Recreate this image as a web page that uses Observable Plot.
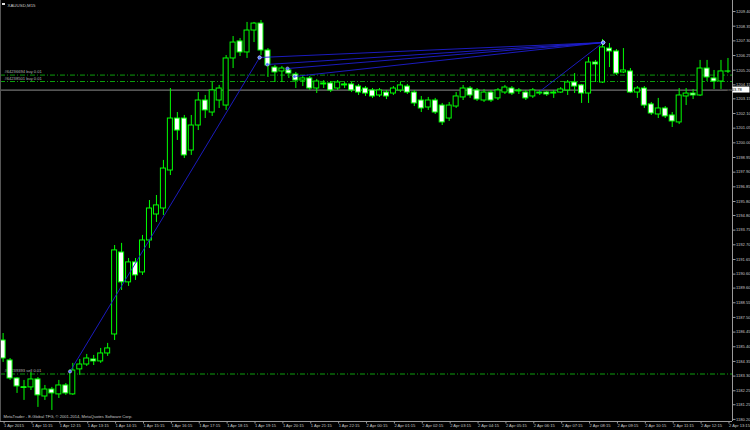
<!DOCTYPE html>
<html><head><meta charset="utf-8">
<script src="https://cdn.jsdelivr.net/npm/d3@7"></script>
<script src="https://cdn.jsdelivr.net/npm/@observablehq/plot@0.6"></script>
<style>
html,body{margin:0;padding:0;background:#000;}
#chart{position:relative;width:750px;height:430px;overflow:hidden;background:#000;}
</style></head><body><div id="chart"></div>
<script>
const symbolTitle = "XAUUSD,M15";
const copyright = "MetaTrader - E-Global TFG, \u00a9 2001-2014, MetaQuotes Software Corp.";

const opens = [
1185.85,1184.42,1183.13,1182.50,1182.49,1183.06,1181.84,1182.34,1181.99,1182.63,
1181.99,1183.78,1184.13,1184.49,1184.35,1184.92,1186.28,1192.15,1190.01,1191.44,
1190.72,1193.01,1194.87,1195.30,1198.02,1201.74,1201.74,1199.45,1201.24,1203.03,
1202.17,1203.03,1202.67,1206.04,1207.26,1206.47,1208.04,1208.54,1206.61,1205.39,
1205.11,1205.18,1204.89,1204.46,1204.61,1203.89,1204.18,1204.25,1203.89,1204.18,
1204.18,1204.03,1203.89,1203.75,1203.39,1203.60,1203.53,1203.75,1204.03,1203.60,
1203.03,1202.53,1203.03,1202.67,1201.74,1202.60,1203.25,1203.89,1203.75,1203.03,
1203.60,1203.18,1203.60,1203.89,1203.75,1203.60,1203.32,1203.53,1203.60,1203.53,
1203.60,1203.75,1204.32,1204.11,1203.53,1205.75,1204.32,1206.75,1206.54,1205.04,
1205.11,1203.60,1203.89,1202.75,1202.03,1202.46,1201.96,1201.46,1203.32,1203.53,
1203.39,1205.32,1204.61,1204.39,1205.11];
const highs = [
1186.35,1184.56,1183.20,1182.99,1183.56,1183.20,1182.63,1182.49,1182.99,1182.77,
1184.21,1184.49,1184.85,1184.78,1185.28,1185.64,1192.65,1192.80,1191.72,1191.72,
1193.37,1195.87,1196.23,1198.74,1203.89,1202.17,1201.96,1201.96,1203.60,1203.39,
1204.32,1204.11,1206.25,1207.61,1207.47,1208.62,1208.62,1208.76,1206.75,1205.54,
1205.47,1205.32,1205.04,1204.82,1204.75,1204.54,1204.46,1204.39,1204.46,1204.32,
1204.32,1204.18,1204.03,1203.89,1203.89,1203.75,1204.03,1204.32,1204.18,1203.75,
1203.32,1203.25,1203.18,1202.82,1202.89,1203.60,1204.11,1204.03,1203.89,1203.82,
1203.75,1203.89,1204.11,1204.03,1203.89,1203.75,1203.89,1203.75,1203.68,1203.75,
1203.96,1204.46,1204.96,1204.18,1206.11,1205.90,1207.40,1207.11,1206.68,1206.75,
1205.32,1204.03,1204.03,1202.89,1203.18,1202.60,1202.17,1203.89,1203.89,1203.82,
1205.90,1205.90,1205.18,1205.90,1206.04];
const lows = [
1184.28,1182.99,1182.06,1181.56,1182.27,1181.06,1181.56,1180.84,1181.70,1181.92,
1181.92,1183.35,1183.99,1184.06,1184.21,1184.71,1185.85,1189.43,1189.72,1190.15,
1190.51,1192.44,1194.30,1194.80,1197.66,1200.17,1198.88,1199.10,1200.88,1201.74,
1201.89,1202.46,1202.32,1205.32,1206.18,1206.04,1207.18,1206.25,1204.68,1204.32,
1204.32,1204.61,1203.89,1204.03,1203.75,1203.53,1203.89,1203.60,1203.75,1203.89,
1203.60,1203.39,1203.32,1203.18,1203.25,1203.10,1203.39,1203.60,1203.46,1202.60,
1202.17,1202.32,1202.03,1201.24,1201.53,1202.46,1203.03,1203.18,1202.96,1202.89,
1202.89,1203.03,1203.46,1203.39,1203.46,1203.03,1203.18,1203.39,1203.32,1203.18,
1203.53,1203.39,1203.53,1202.82,1202.82,1204.32,1204.25,1205.39,1204.82,1204.96,
1203.53,1203.18,1202.46,1201.96,1201.74,1201.74,1201.10,1201.31,1202.67,1203.10,
1203.32,1204.39,1203.82,1203.82,1204.96];
const closes = [
1184.56,1183.13,1182.56,1182.45,1183.06,1181.92,1182.34,1182.06,1182.63,1182.06,
1183.70,1184.13,1184.56,1184.35,1184.92,1185.28,1192.30,1190.01,1191.44,1190.51,
1193.01,1195.30,1195.52,1198.16,1201.74,1200.88,1199.10,1201.24,1203.03,1202.32,
1203.75,1203.89,1206.04,1207.18,1206.47,1208.04,1208.54,1206.61,1205.54,1205.04,
1205.32,1204.96,1204.46,1204.61,1203.89,1204.39,1204.25,1203.75,1204.32,1204.11,
1203.75,1203.60,1203.53,1203.32,1203.75,1203.32,1203.89,1204.11,1203.60,1202.82,
1202.46,1203.03,1202.17,1201.46,1202.67,1203.32,1203.89,1203.39,1203.10,1203.60,
1203.03,1203.75,1203.96,1203.53,1203.68,1203.18,1203.75,1203.60,1203.46,1203.60,
1203.82,1204.32,1204.03,1203.53,1205.75,1205.61,1206.83,1206.54,1204.96,1205.18,
1203.60,1203.89,1202.67,1202.10,1202.46,1201.89,1201.53,1203.39,1203.53,1203.39,
1205.32,1204.68,1204.39,1205.11,1205.10];

const timeTickBars = [0,4,8,12,16,20,24,28,32,36,40,44,48,52,56,60,64,68,72,76,80,84,88,92,96,100,104];
const timeTickLabels = ["1 Apr 2015","1 Apr 11:15","1 Apr 12:15","1 Apr 13:15","1 Apr 14:15","1 Apr 15:15",
"1 Apr 16:15","1 Apr 17:15","1 Apr 18:15","1 Apr 19:15","1 Apr 20:15","1 Apr 21:15","1 Apr 22:15",
"2 Apr 00:15","2 Apr 01:15","2 Apr 02:15","2 Apr 03:15","2 Apr 04:15","2 Apr 05:15","2 Apr 06:15",
"2 Apr 07:15","2 Apr 08:15","2 Apr 09:15","2 Apr 10:15","2 Apr 11:15","2 Apr 12:15","2 Apr 13:15"];

const priceTicks = [1209.40,1208.35,1207.30,1206.25,1205.20,1204.15,1203.15,1202.10,1201.05,1200.00,
1198.95,1197.90,1196.85,1195.80,1194.80,1193.75,1192.70,1191.65,1190.60,1189.60,1188.55,1187.50,
1186.45,1185.40,1184.35,1183.30,1182.25,1181.25,1180.20];

const orderPrices = [1204.85, 1204.39, 1183.45];
const orderLabels = ["#64236694 buy 0.01", "#64238501 buy 0.01", "#63239393 sell 0.01"];

// closed trades: open bar/price -> close bar/price
const tradeOpenBar = [9.6, 36.8, 37.9, 40.8, 41.8, 77.0];
const tradeOpenPrice = [1183.63, 1206.11, 1205.61, 1205.32, 1204.75, 1203.68];
const tradeCloseBar = [36.8, 86.1, 86.1, 86.1, 86.1, 86.1];
const tradeClosePrice = [1206.11, 1207.18, 1207.18, 1207.18, 1207.18, 1207.18];
const tradeMarked = [true, true, true, true, true, false];

const bidPrice = 1203.78;

// ---- build tables
const candles = opens.map((o, i) => ({i, o, h: highs[i], l: lows[i], c: closes[i], up: closes[i] >= o}));
const trades = tradeOpenBar.map((b, k) => ({x1: b, y1: tradeOpenPrice[k], x2: tradeCloseBar[k], y2: tradeClosePrice[k], m: tradeMarked[k]}));
const tradePoints = trades.filter(t => t.m).flatMap(t => [{x: t.x1, y: t.y1}, {x: t.x2, y: t.y2}]);
const orders = orderPrices.map((p, k) => ({p, label: orderLabels[k]}));
const tickLabelOf = new Map(timeTickBars.map((b, k) => [b, timeTickLabels[k]]));

const FONT = "'Liberation Sans', Arial, sans-serif";
const FS = 4.1;
const GREEN = "#00ff00";
const AXIS = "#9a9a9a";
const TXT = "#c8c8c8";

const plot = Plot.plot({
  width: 750, height: 430,
  marginLeft: 0, marginRight: 18, marginTop: 0, marginBottom: 9,
  style: {background: "#000", color: TXT, fontFamily: FONT, fontSize: FS + "px"},
  x: {domain: [-0.373, 104.65], axis: null},
  y: {domain: [1180.05, 1210.19], axis: null},
  marks: [
    // order levels
    Plot.ruleY(orders, {y: "p", stroke: "#0c9c0c", strokeWidth: 1, strokeDasharray: "5,2,1,2"}),
    Plot.text(orders, {y: "p", frameAnchor: "left", text: "label", dx: 4, dy: -3.2, fill: "#b4b4b4", fontSize: FS, textAnchor: "start"}),
    // bid line
    Plot.ruleY([bidPrice], {stroke: "#707070", strokeWidth: 1.2}),
    // wicks
    Plot.ruleX(candles, {x: "i", y1: "l", y2: "h", stroke: GREEN, strokeWidth: 1}),
    // bodies
    Plot.rect(candles, {x1: d => d.i - 0.36, x2: d => d.i + 0.36, y1: "o", y2: "c",
      fill: d => d.up ? "#000" : "#fff", stroke: GREEN, strokeWidth: 1}),
    // trade lines
    Plot.link(trades, {x1: "x1", y1: "y1", x2: "x2", y2: "y2", stroke: "#1e1ed2", strokeWidth: 0.9}),
    Plot.dot(tradePoints, {x: "x", y: "y", r: 1.6, fill: "#4a6cff", stroke: "#dfe6ff", strokeWidth: 0.5}),
    // frame: right + bottom
    Plot.ruleX([104.65], {stroke: AXIS, strokeWidth: 1}),
    Plot.ruleY([1180.05], {stroke: AXIS, strokeWidth: 1}),
    Plot.ruleX([-0.373], {stroke: "#555", strokeWidth: 1}),
    // axes
    Plot.axisY({anchor: "right", ticks: priceTicks, tickSize: 2.5, tickPadding: 1,
      tickFormat: d => d.toFixed(2), fontSize: FS, stroke: AXIS, fill: TXT}),
    Plot.axisX({anchor: "bottom", ticks: timeTickBars, tickSize: 2.5, tickPadding: 0.5,
      tickFormat: b => tickLabelOf.get(b), textAnchor: "start", dx: 1, fontSize: FS, stroke: AXIS, fill: TXT}),
    // titles
    Plot.text([symbolTitle], {frameAnchor: "top-left", dx: 7, dy: 3, text: d => d, fill: TXT, fontSize: 4.4, textAnchor: "start"}),
    Plot.text([copyright], {frameAnchor: "bottom-left", dx: 3, dy: -4, text: d => d, fill: TXT, fontSize: FS, textAnchor: "start"})
  ]
});

// bid price box on the right axis
const ySc = plot.scale("y");
const yb = ySc.apply(bidPrice);
const svg = d3.select(plot);
svg.append("rect").attr("x", 732.5).attr("y", yb - 3).attr("width", 17).attr("height", 6).attr("fill", "#fff");
svg.append("text").attr("x", 734.5).attr("y", yb + 1.5).attr("font-size", FS).attr("fill", "#000")
  .attr("font-family", FONT).text(bidPrice.toFixed(2));
// symbol icon
svg.append("rect").attr("x", 2).attr("y", 3).attr("width", 3).attr("height", 2).attr("fill", "#ddd");

document.getElementById("chart").appendChild(plot);
</script>
</body></html>
